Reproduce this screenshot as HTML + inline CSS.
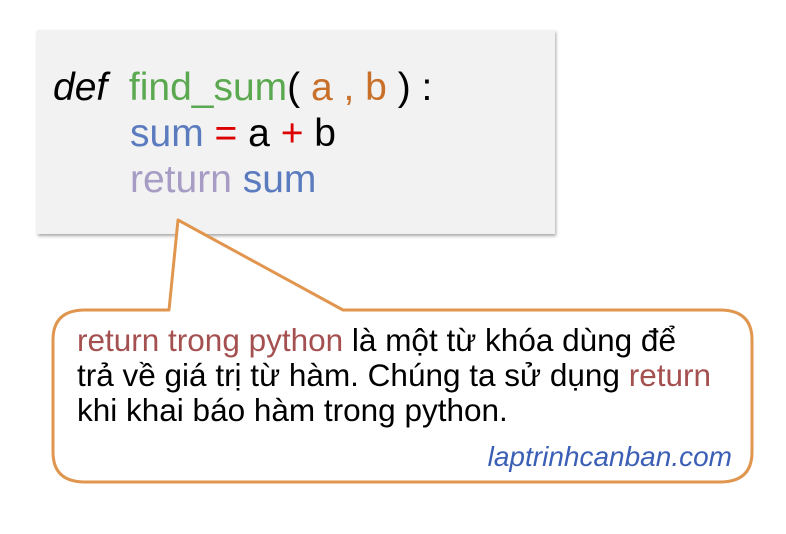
<!DOCTYPE html>
<html><head><meta charset="utf-8"><style>
body{margin:0;width:786px;height:534px;background:#fff;position:relative;overflow:hidden;font-family:"Liberation Sans",sans-serif}
.code{position:absolute;left:37px;top:30px;width:518px;height:204px;background:#f2f2f2;box-shadow:1px 2px 3px rgba(0,0,0,0.35)}
.l{position:absolute;font-size:39px;white-space:pre;line-height:1}
.t{position:absolute;font-size:31.5px;white-space:nowrap;line-height:1;color:#000}
.r{color:#a55050}
</style></head><body>
<div class="code"></div>
<div class="l" style="left:53px;top:68px"><i>def</i>  <span style="color:#5aa84f">find_sum</span>( <span style="color:#c8702a">a , b</span> ) :</div>
<div class="l" style="left:130px;top:114px"><span style="color:#5b7bbf">sum</span> <span style="color:#d00">=</span> a <span style="color:#d00">+</span> b</div>
<div class="l" style="left:130px;top:160px"><span style="color:#a79cc4">return</span> <span style="color:#5b7bbf">sum</span></div>
<svg width="786" height="534" style="position:absolute;left:0;top:0">
<path d="M169,310 L178,220 L343,310 L720,310 Q752,310 752,340 L752,452 Q752,482 720,482 L85,482 Q53,482 53,452 L53,340 Q53,310 85,310 Z" fill="#fff" stroke="#e0964f" stroke-width="3" stroke-linejoin="round"/>
</svg>
<div class="t" style="left:77px;top:325px"><span class="r">return trong python</span> là một từ khóa dùng để</div>
<div class="t" style="left:77px;top:360px">trả về giá trị từ hàm. Chúng ta sử dụng <span class="r">return</span></div>
<div class="t" style="left:77px;top:395px">khi khai báo hàm trong python.</div>
<div class="t" style="right:54px;top:443px;font-size:28px;font-style:italic;color:#3a5fb5">laptrinhcanban.com</div>
</body></html>
